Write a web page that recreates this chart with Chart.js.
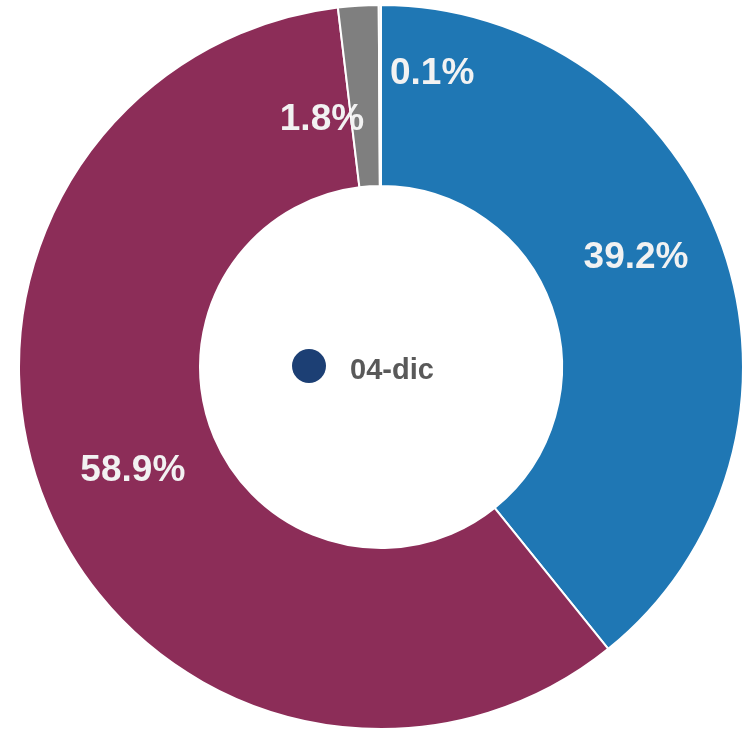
<!DOCTYPE html>
<html lang="es">
<head>
<meta charset="UTF-8">
<title>04-dic</title>
<script src="https://cdn.jsdelivr.net/npm/chart.js"></script>
<style>
    html, body { margin: 0; padding: 0; background: #fff; }
    .wrap { width: 748px; height: 730px; position: relative; }
</style>
</head>
<body>
<div class="wrap"><canvas id="pie"></canvas></div>
<script>
    // datos
    const categories = ['A', 'B', 'C', 'D'];
    const values = [39.2, 58.9, 1.8, 0.1];
    const centerLabel = '04-dic';

    const colors = ['#1f77b4', '#8c2d58', '#7f7f7f', '#dcdcdc'];
    // pequeños desplazamientos de etiquetas para que no se pisen
    const labelNudge = [[-1, -19], [2, -2], [-42, 24], [52, -22]];

    const labelPlugin = {
        id: 'labels',
        afterDatasetsDraw(chart) {
            const c = chart.ctx;
            const meta = chart.getDatasetMeta(0);
            c.save();
            c.font = 'bold 37px "Liberation Sans", Arial, sans-serif';
            c.fillStyle = '#f2f2f2';
            c.textAlign = 'center';
            c.textBaseline = 'middle';
            meta.data.forEach((arc, i) => {
                const p = arc.getProps(['x', 'y', 'startAngle', 'endAngle', 'innerRadius', 'outerRadius'], true);
                const a = (p.startAngle + p.endAngle) / 2;
                const r = (p.innerRadius + p.outerRadius) / 2;
                const x = p.x + Math.cos(a) * r + labelNudge[i][0];
                const y = p.y + Math.sin(a) * r + labelNudge[i][1];
                c.fillText(values[i].toFixed(1) + '%', x, y);
            });

            // leyenda central
            const cx = meta.data[0].x, cy = meta.data[0].y;
            c.beginPath();
            c.arc(cx - 72, cy - 1, 17, 0, Math.PI * 2);
            c.fillStyle = '#1c3f74';
            c.fill();
            c.font = 'bold 29px "Liberation Sans", Arial, sans-serif';
            c.fillStyle = '#595959';
            c.textAlign = 'left';
            c.fillText(centerLabel, cx - 31, cy + 4);
            c.restore();
        }
    };

    new Chart(document.getElementById('pie'), {
        type: 'doughnut',
        data: {
            labels: categories,
            datasets: [{
                data: values,
                backgroundColor: colors,
                borderColor: '#ffffff',
                borderWidth: 2
            }]
        },
        options: {
            responsive: true,
            maintainAspectRatio: false,
            animation: false,
            cutout: '50%',
            layout: { padding: { left: 14, right: 0, top: 4, bottom: 0 } },
            plugins: {
                legend: { display: false },
                tooltip: { enabled: false }
            }
        },
        plugins: [labelPlugin]
    });
</script>
</body>
</html>
